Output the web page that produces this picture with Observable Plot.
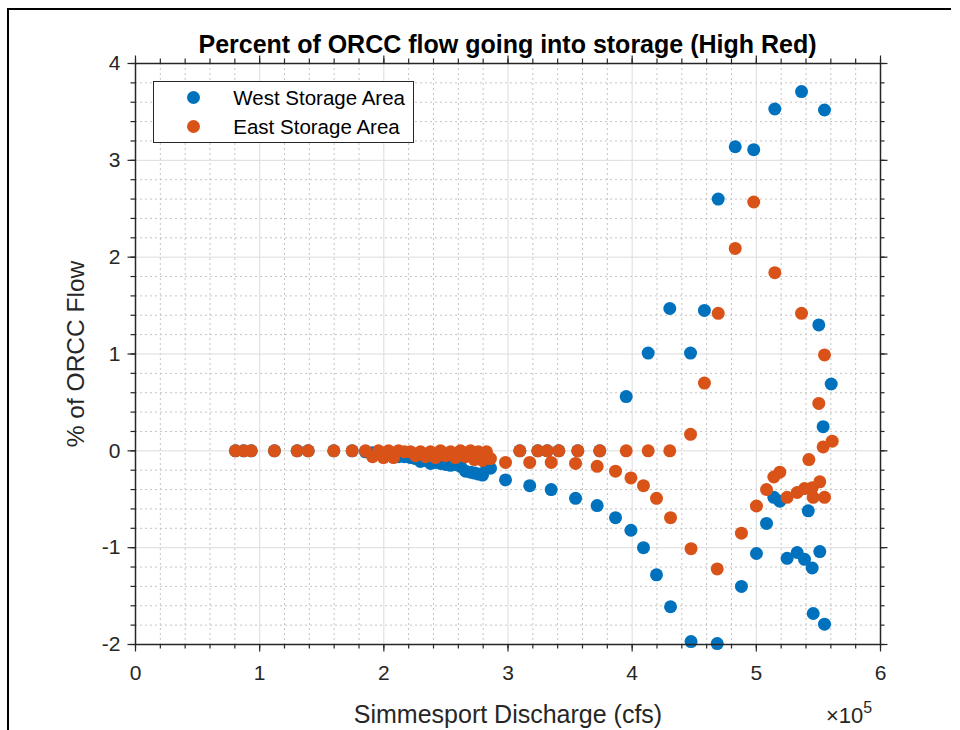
<!DOCTYPE html>
<html><head><meta charset="utf-8">
<script src="https://cdn.jsdelivr.net/npm/d3@7"></script>
<script src="https://cdn.jsdelivr.net/npm/@observablehq/plot@0.6"></script>
<style>
body{margin:0;background:#fff;font-family:"Liberation Sans",Arial,Helvetica,sans-serif;}
#wrap{position:relative;width:960px;height:730px;overflow:hidden;background:#fff}
#outer{position:absolute;left:7px;top:8px;width:944px;height:760px;border-left:2.5px solid #000;border-top:2.5px solid #000;box-sizing:border-box}
#title{position:absolute;left:0;width:1015px;top:30px;text-align:center;font-weight:bold;font-size:25px;line-height:28px;color:#000;white-space:nowrap}
#chart{position:absolute;left:0;top:30px}
#legend{position:absolute;left:153px;top:81px;width:261px;height:62px;border:1.5px solid #262626;background:#fff;box-sizing:border-box}
#legend .dot{position:absolute;width:13px;height:13px;border-radius:50%}
#legend .lab{position:absolute;font-size:20.5px;line-height:20px;color:#000;white-space:nowrap}
#exp{position:absolute;left:826px;top:705px;font-size:22px;line-height:22px;color:#262626;white-space:nowrap}
#exp span{font-size:16px;position:relative;top:-10px}
</style></head>
<body>
<div id="wrap">
  <div id="outer"></div>
  <div id="title"></div>
  <div id="chart"></div>
  <div id="legend"></div>
  <div id="exp">×10<span>5</span></div>
</div>
<script>
// ---- data (Simmesport discharge in cfs, % of ORCC flow) ----
const titleText = "Percent of ORCC flow going into storage (High Red)";
const xLabel = "Simmesport Discharge (cfs)";
const yLabel = "% of ORCC Flow";
const seriesNames = ["West Storage Area", "East Storage Area"];
const seriesColors = ["#0072BD", "#D95319"];
const xTickValues = [0, 100000, 200000, 300000, 400000, 500000, 600000];
const yTickValues = [-2, -1, 0, 1, 2, 3, 4];

const westDischarge = [80500, 87200, 93200, 111900, 130200, 139100, 159700, 174500,
  185200, 190900, 195700, 199700, 203800, 207800, 211800, 216600, 221500, 225500, 229500, 233600,
  237600, 241600, 245600, 249700, 253700, 257700, 261700, 265800, 269800, 273000, 276200, 279500,
  282700, 285900,
  298000, 309500, 317500, 324000, 331600, 334800, 340900, 354400, 356200, 371800, 373900, 386600,
  395200, 399000, 409100, 412900, 419600, 430300, 430900, 447400, 447000, 458200, 468500, 469300,
  483000, 488000, 497900, 500100, 508200, 514100, 518900, 514900, 524800, 532900, 536400, 538800,
  541800, 545000, 545800, 550300, 551100, 553800, 554900, 554900, 560300];
const westPercent = [0, 0, 0, 0, 0, 0, 0, 0,
  -0.01, -0.02, -0.02, -0.03, -0.02, -0.05, -0.06, -0.06, -0.07, -0.08, -0.11, -0.10,
  -0.13, -0.12, -0.13, -0.14, -0.15, -0.14, -0.16, -0.21, -0.22, -0.23, -0.24, -0.25,
  -0.15, -0.18,
  -0.30, 0, -0.36, 0, 0, -0.40, 0, -0.49, 0, -0.565, 0, -0.69,
  0.56, -0.82, -1.00, 1.01, -1.28, 1.47, -1.61, -1.97, 1.01, 1.45, -1.99, 2.60,
  3.14, -1.40, 3.11, -1.06, -0.75, -0.48, -0.52, 3.53, -1.11, -1.05, 3.71, -1.12,
  -0.62, -1.21, -1.68, 1.30, -1.04, 0.25, 3.52, -1.79, 0.69];

const eastDischarge = [80500, 87200, 93200, 111900, 130200, 139100, 159700, 174500,
  185200, 190900, 195700, 199700, 203800, 207800, 211800, 216600, 221500, 225500, 229500, 233600,
  237600, 241600, 245600, 249700, 253700, 257700, 261700, 265800, 269800, 273000, 276200, 279500,
  282700, 285900,
  298000, 309500, 317500, 324000, 331600, 334800, 340900, 354400, 356200, 371800, 373900, 386600,
  395200, 399000, 409100, 412900, 419600, 430300, 430900, 447400, 447000, 458200, 468500, 469300,
  483000, 488000, 497900, 500100, 508200, 514100, 518900, 514900, 524800, 532900, 536400, 538800,
  542300, 545000, 545800, 550300, 551100, 553800, 554900, 554900, 561100];
const eastPercent = [0, 0, 0, 0, 0, 0, 0, 0,
  0, -0.06, 0, -0.07, 0, -0.07, 0, -0.01, -0.01, -0.05, -0.01, -0.06,
  -0.01, -0.07, 0, -0.05, -0.01, -0.07, 0, -0.06, 0, -0.09, -0.01, -0.10,
  -0.01, -0.08,
  -0.12, 0, -0.12, 0, 0, -0.12, 0, -0.13, 0, -0.16, 0, -0.21,
  0, -0.28, -0.36, 0, -0.49, 0, -0.69, -1.01, 0.17, 0.70, -1.22, 1.42,
  2.09, -0.85, 2.57, -0.57, -0.40, -0.27, -0.22, 1.84, -0.48, -0.43, 1.42, -0.39,
  -0.09, -0.38, -0.48, 0.49, -0.32, 0.04, -0.48, 0.99, 0.10];

// ---- build ----
const west = westDischarge.map((x, i) => ({x, y: westPercent[i]}));
const east = eastDischarge.map((x, i) => ({x, y: eastPercent[i]}));

const xMinor = d3.range(0, 600001, 20000);
const yMinor = d3.range(-2, 4.0001, 0.2).map(v => Math.round(v * 10) / 10);
const xMinorGrid = xMinor.filter(v => v % 100000 !== 0);
const yMinorGrid = yMinor.filter(v => Math.abs(v - Math.round(v)) > 1e-6);

const W = 960, H = 700, mT = 33, mB = 86, mL = 135, mR = 80;
const fH = H - mT - mB, fW = W - mL - mR;
const axisColor = "#262626";
const font = "'Liberation Sans', Arial, Helvetica, sans-serif";

const chart = Plot.plot({
  width: W, height: H,
  marginTop: mT, marginBottom: mB, marginLeft: mL, marginRight: mR,
  style: {fontFamily: font, fontSize: "21px", color: axisColor, background: "transparent"},
  x: {domain: [0, 600000], ticks: xTickValues, tickFormat: d => String(d / 1e5), tickSize: 0, tickPadding: 21, label: null},
  y: {domain: [-2, 4], ticks: yTickValues, tickFormat: d => String(d), tickSize: 0, tickPadding: 15, label: null},
  marks: [
    Plot.ruleX(xMinorGrid, {x: d => d, stroke: "#c4c4c4", strokeDasharray: "2,3"}),
    Plot.ruleY(yMinorGrid, {y: d => d, stroke: "#c4c4c4", strokeDasharray: "2,3"}),
    Plot.ruleX(xTickValues, {x: d => d, stroke: "#dcdcdc"}),
    Plot.ruleY(yTickValues, {y: d => d, stroke: "#dcdcdc"}),
    Plot.dot(west, {x: "x", y: "y", r: 6.5, fill: seriesColors[0], stroke: "none"}),
    Plot.dot(east, {x: "x", y: "y", r: 6.5, fill: seriesColors[1], stroke: "none"}),
    Plot.frame({stroke: axisColor, strokeWidth: 1.5}),
    // outward ticks, all four sides
    Plot.ruleX(xMinor, {x: d => d, insetTop: fH, insetBottom: -4.5, stroke: axisColor, strokeWidth: 1.2}),
    Plot.ruleX(xMinor, {x: d => d, insetBottom: fH, insetTop: -4.5, stroke: axisColor, strokeWidth: 1.2}),
    Plot.ruleX(xTickValues, {x: d => d, insetTop: fH, insetBottom: -7.5, stroke: axisColor, strokeWidth: 1.2}),
    Plot.ruleX(xTickValues, {x: d => d, insetBottom: fH, insetTop: -7.5, stroke: axisColor, strokeWidth: 1.2}),
    Plot.ruleY(yMinor, {y: d => d, insetLeft: -4.5, insetRight: fW, stroke: axisColor, strokeWidth: 1.2}),
    Plot.ruleY(yMinor, {y: d => d, insetRight: -4.5, insetLeft: fW, stroke: axisColor, strokeWidth: 1.2}),
    Plot.ruleY(yTickValues, {y: d => d, insetLeft: -7.5, insetRight: fW, stroke: axisColor, strokeWidth: 1.2}),
    Plot.ruleY(yTickValues, {y: d => d, insetRight: -7.5, insetLeft: fW, stroke: axisColor, strokeWidth: 1.2}),
    Plot.text([xLabel], {text: d => d, frameAnchor: "bottom", textAnchor: "middle", lineAnchor: "middle", dy: 70, fontSize: 25, fill: axisColor}),
    Plot.text([yLabel], {text: d => d, frameAnchor: "left", textAnchor: "middle", lineAnchor: "middle", dx: -59, rotate: -90, fontSize: 24.5, fill: axisColor})
  ]
});
document.getElementById("chart").appendChild(chart);
document.getElementById("title").textContent = titleText;

const legend = document.getElementById("legend");
seriesNames.forEach((name, i) => {
  const cy = 15.7 + i * 29;
  const dot = document.createElement("span");
  dot.className = "dot";
  dot.style.left = (39.3 - 6.5) + "px";
  dot.style.top = (cy - 6.5) + "px";
  dot.style.background = seriesColors[i];
  legend.appendChild(dot);
  const lab = document.createElement("span");
  lab.className = "lab";
  lab.style.left = "79.3px";
  lab.style.top = (cy - 10) + "px";
  lab.textContent = name;
  legend.appendChild(lab);
});
</script>
</body></html>
